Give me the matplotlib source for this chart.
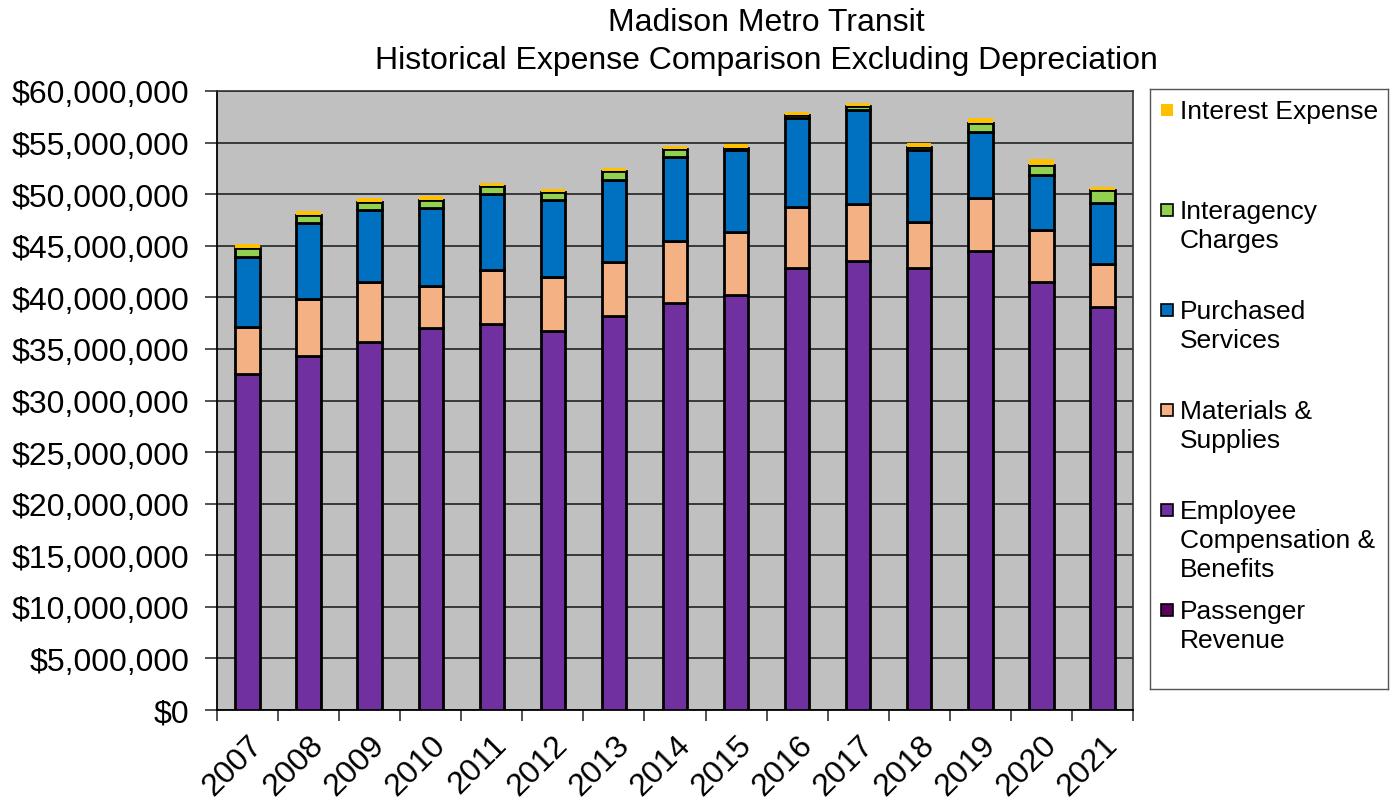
import matplotlib.pyplot as plt
import matplotlib.patches as mpatches
from matplotlib.ticker import FuncFormatter, MultipleLocator

plt.rcParams['font.family'] = ['Liberation Sans', 'DejaVu Sans']

years = [str(y) for y in range(2007, 2022)]

# values in millions of dollars
passenger = [0] * 15
employee = [32.56, 34.30, 35.69, 37.01, 37.46, 36.69, 38.21, 39.47, 40.27, 42.82,
            43.56, 42.86, 44.46, 41.53, 39.08]
materials = [4.52, 5.58, 5.77, 4.13, 5.16, 5.29, 5.26, 6.03, 6.03, 5.97,
             5.49, 4.45, 5.17, 5.03, 4.19]
purchased = [6.80, 7.29, 6.97, 7.49, 7.43, 7.42, 7.93, 8.06, 7.94, 8.55,
             9.13, 6.93, 6.37, 5.33, 5.88]
interagency = [0.91, 0.78, 0.78, 0.84, 0.77, 0.81, 0.84, 0.84, 0.20, 0.32,
               0.32, 0.33, 0.92, 0.90, 1.29]
interest = [0.35, 0.39, 0.42, 0.35, 0.26, 0.26, 0.29, 0.26, 0.39, 0.33,
            0.33, 0.38, 0.51, 0.61, 0.22]

series = [
    ("Passenger\nRevenue", passenger, "#5C0060"),
    ("Employee\nCompensation &\nBenefits", employee, "#7030A0"),
    ("Materials &\nSupplies", materials, "#F4B183"),
    ("Purchased\nServices", purchased, "#0070C0"),
    ("Interagency\nCharges", interagency, "#92D050"),
    ("Interest Expense", interest, "#FFC000"),
]

fig = plt.figure(figsize=(13.95, 8.04), dpi=100)
W, H = 1395, 804
ax = fig.add_axes([217 / W, 1 - 711 / H, (1133 - 217) / W, (711 - 92) / H])
ax.set_facecolor("#C0C0C0")

x = list(range(len(years)))
bottom = [0.0] * len(years)
for name, vals, color in series:
    dollars = [v * 1e6 for v in vals]
    if name == "Interest Expense":
        ax.bar(x, dollars, 0.4, bottom=bottom, color=color, linewidth=0, zorder=3)
    else:
        ax.bar(x, dollars, 0.4, bottom=bottom, color=color, edgecolor="black",
               linewidth=2.0, zorder=3)
    bottom = [b + d for b, d in zip(bottom, dollars)]

ax.set_xlim(-0.5, len(years) - 0.5)
ax.set_ylim(0, 60e6)
ax.yaxis.set_major_locator(MultipleLocator(5e6))
ax.yaxis.set_major_formatter(FuncFormatter(lambda v, p: "${:,.0f}".format(v)))
ax.grid(axis="y", color="#222222", linewidth=1.2, zorder=1)
ax.tick_params(axis="y", labelsize=23, length=9, width=1.2, color="#333333", pad=11)

ax.set_xticks(x)
ax.set_xticklabels(years, rotation=45, ha="right", rotation_mode="anchor", fontsize=23)
ax.tick_params(axis="x", which="major", length=0, pad=14)
ax.set_xticks([i - 0.5 for i in range(len(years) + 1)], minor=True)
ax.tick_params(axis="x", which="minor", length=8, width=1.2, color="#333333")

for side in ["left", "bottom"]:
    ax.spines[side].set_color("black")
    ax.spines[side].set_linewidth(1.3)
for side in ["top", "right"]:
    ax.spines[side].set_color("#333333")
    ax.spines[side].set_linewidth(1.2)

fig.text(766 / W, 1 - 23 / H, "Madison Metro Transit", ha="center", va="center", fontsize=23)
fig.text(766 / W, 1 - 61 / H, "Historical Expense Comparison Excluding Depreciation",
         ha="center", va="center", fontsize=23)

# legend box, entries top-down like the original
lax = fig.add_axes([1150 / W, 1 - 690 / H, (1388 - 1150) / W, (690 - 90) / H])
lax.set_xlim(1150, 1388)
lax.set_ylim(690, 90)
lax.set_xticks([])
lax.set_yticks([])
for s in lax.spines.values():
    s.set_color("#555555")
    s.set_linewidth(1.0)
entry_y = [111, 211, 311, 411, 511, 611]
for (name, vals, color), yy in zip(series[::-1], entry_y):
    ec = "none" if name == "Interest Expense" else "black"
    lax.add_patch(mpatches.Rectangle((1161, yy - 6), 12, 12, facecolor=color,
                                     edgecolor=ec, linewidth=1.2))
    lax.text(1180, yy - 11, name, ha="left", va="top", fontsize=19, linespacing=1.27)

fig.savefig("out.png", dpi=100)
